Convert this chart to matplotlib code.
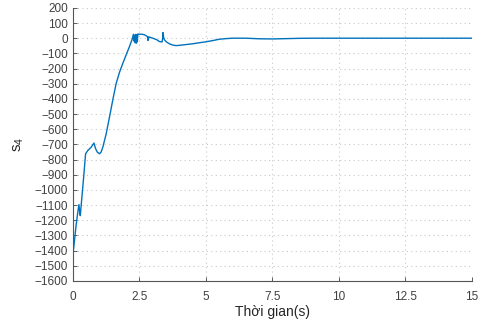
import matplotlib
matplotlib.use("Agg")
import matplotlib.pyplot as plt
import numpy as np

# time (s) and s4 values
t = [0.0, 0.0, 0.001, 0.06, 0.12, 0.18, 0.225, 0.25, 0.275, 0.32, 0.40, 0.475, 0.56, 0.68, 0.79,
     0.85, 0.92, 1.0, 1.06, 1.125, 1.25, 1.375, 1.5, 1.625, 1.75, 1.875, 2.0, 2.125, 2.22, 2.275,
     2.30, 2.32, 2.34, 2.36, 2.38, 2.40, 2.42, 2.44, 2.46, 2.5, 2.6, 2.69, 2.8, 2.82, 2.84, 2.86,
     3.0, 3.15, 3.25, 3.35, 3.37, 3.385, 3.41, 3.44, 3.52, 3.625, 3.75, 3.875, 4.0, 4.25, 4.5,
     4.75, 5.0, 5.25, 5.5, 5.75, 6.0, 6.5, 7.0, 7.5, 8.0, 8.5, 9.0, 10.0, 11.0, 12.0, 13.0, 14.0, 15.0]
s4 = [0, -1424, -1424, -1330, -1230, -1150, -1097, -1140, -1170, -1080, -920, -762, -740, -720, -691,
      -728, -752, -762, -750, -717, -630, -519, -405, -298, -225, -166, -110, -55, -10, 26,
      -20, 20, -30, 25, -33, 22, -25, 28, 26, 26, 26, 22, 11, -15, 8, 8,
      0, -10, -22, -25, -5, 37, 5, -11, -25, -37, -45, -49, -47, -42, -37,
      -30, -24, -16, -7, -3, 0, 0, -4, -5, -3, -1, 0, 0, 0, 0, 0, 0, 0]

xticks = [0, 2.5, 5, 7.5, 10, 12.5, 15]
xticklabels = ["0", "2.5", "5", "7.5", "10", "12.5", "15"]
yticks = list(range(-1600, 201, 100))

plt.rcParams['font.family'] = ['Liberation Sans', 'DejaVu Sans']
plt.rcParams['mathtext.fontset'] = 'custom'
plt.rcParams['mathtext.rm'] = 'Liberation Sans'
fig = plt.figure(figsize=(4.8, 3.27), dpi=100)
ax = fig.add_axes([0.152, 0.141, 0.831, 0.835])
ax.plot(t, s4, color='#0072BD', lw=1.0)
ax.set_xlim(0, 15)
ax.set_ylim(-1600, 200)
ax.set_xticks(xticks)
ax.set_xticklabels(xticklabels)
ax.set_yticks(yticks)
ax.grid(True, linestyle=(0, (1, 3)), color='#c8c8c8', lw=0.8)
for sp in ['top', 'right']:
    ax.spines[sp].set_visible(False)
for sp in ['left', 'bottom']:
    ax.spines[sp].set_color('#555555')
    ax.spines[sp].set_linewidth(0.8)
ax.tick_params(direction='in', length=3, labelsize=8.5, colors='#404040', width=0.6)
ax.tick_params(axis='x', pad=7)
ax.set_xlabel('Thời gian(s)', fontsize=10, color='#262626', labelpad=2)
ax.set_ylabel(r'$\mathregular{s_4}$', fontsize=11, color='#262626', labelpad=6)
fig.savefig('out.png', dpi=100)
